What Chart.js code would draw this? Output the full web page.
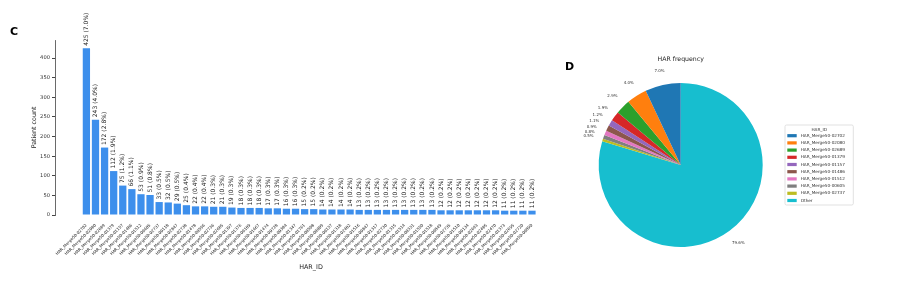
<!DOCTYPE html>
<html><head><meta charset="utf-8">
<script src="https://cdn.jsdelivr.net/npm/chart.js@4.4.1/dist/chart.umd.min.js"></script>
<style>
html,body{margin:0;padding:0;background:#fff;width:902px;height:286px;overflow:hidden;font-family:"DejaVu Sans",sans-serif}
#c1{position:absolute;left:0;top:0;width:575px;height:286px}
#c2{position:absolute;left:560px;top:0;width:342px;height:286px}
.lab{position:absolute;font-weight:bold;font-size:11px;line-height:11px;color:#000;font-family:"DejaVu Sans",sans-serif}
</style></head><body>
<div id="c1"><canvas id="bar"></canvas></div>
<div id="c2"><canvas id="pie"></canvas></div>
<div class="lab" style="left:10px;top:25.7px">C</div>
<div class="lab" style="left:565px;top:61.4px">D</div>
<script>
// ---- data ----
const harIds = ['HAR_Merge50-02702','HAR_Merge50-02080','HAR_Merge50-02689','HAR_Merge50-01379','HAR_Merge50-01157',
 'HAR_Merge50-01486','HAR_Merge50-01512','HAR_Merge50-00605','HAR_Merge50-02737','HAR_Merge50-00118',
 'HAR_Merge50-02847','HAR_Merge50-02738','HAR_Merge50-01478','HAR_Merge50-00596','HAR_Merge50-02736',
 'HAR_Merge50-02685','HAR_Merge50-01397','HAR_Merge50-01376','HAR_Merge50-00189','HAR_Merge50-01667',
 'HAR_Merge50-01474','HAR_Merge50-00728','HAR_Merge50-00384','HAR_Merge50-01347','HAR_Merge50-01761',
 'HAR_Merge50-00508','HAR_Merge50-00009','HAR_Merge50-00137','HAR_Merge50-01318','HAR_Merge50-02482',
 'HAR_Merge50-01516','HAR_Merge50-00847','HAR_Merge50-01317','HAR_Merge50-02730','HAR_Merge50-01315',
 'HAR_Merge50-01514','HAR_Merge50-00331','HAR_Merge50-01550','HAR_Merge50-01518','HAR_Merge50-00849',
 'HAR_Merge50-02735','HAR_Merge50-01510','HAR_Merge50-00134','HAR_Merge50-02693','HAR_Merge50-02485',
 'HAR_Merge50-02470','HAR_Merge50-01373','HAR_Merge50-02695','HAR_Merge50-02720','HAR_Merge50-00890'];
const patientCounts = [425,243,172,112,75,66,53,51,33,32,29,25,22,22,21,21,19,18,18,18,17,17,16,16,15,15,
 14,14,14,14,13,13,13,13,13,13,13,13,13,12,12,12,12,12,12,12,11,11,11,11];
const countPct = [7.0,4.0,2.8,1.9,1.2,1.1,0.9,0.8,0.5,0.5,0.5,0.4,0.4,0.4,0.3,0.3,0.3,0.3,0.3,0.3,0.3,0.3,0.3,0.3,
 0.2,0.2,0.2,0.2,0.2,0.2,0.2,0.2,0.2,0.2,0.2,0.2,0.2,0.2,0.2,0.2,0.2,0.2,0.2,0.2,0.2,0.2,0.2,0.2,0.2,0.2];
const yTicks = [0,50,100,150,200,250,300,350,400];

const pieLabels = ['HAR_Merge50-02702','HAR_Merge50-02080','HAR_Merge50-02689','HAR_Merge50-01379','HAR_Merge50-01157',
 'HAR_Merge50-01486','HAR_Merge50-01512','HAR_Merge50-00605','HAR_Merge50-02737','Other'];
const piePct = [7.0,4.0,2.9,1.9,1.2,1.1,0.9,0.8,0.5,79.6];
const pieColors = ['#1f77b4','#ff7f0e','#2ca02c','#d62728','#9467bd','#8c564b','#e377c2','#7f7f7f','#bcbd22','#17becf'];

Chart.defaults.font.family = '"DejaVu Sans", sans-serif';

const barLabelPlugin = {id:'barLabels', afterDatasetsDraw(chart){
  const ctx = chart.ctx, meta = chart.getDatasetMeta(0);
  ctx.save();
  ctx.font = '6px "DejaVu Sans"'; ctx.fillStyle = '#222';
  ctx.textAlign = 'left'; ctx.textBaseline = 'middle';
  meta.data.forEach((bar, i) => {
    ctx.save(); ctx.translate(bar.x, bar.y - 2.5); ctx.rotate(-Math.PI/2);
    ctx.fillText(patientCounts[i] + ' (' + countPct[i].toFixed(1) + '%)', 0, 0);
    ctx.restore();
  });
  ctx.restore();
}};

new Chart(document.getElementById('bar'), {
  type: 'bar',
  data: {datasets: [{data: patientCounts.map((v, i) => ({x: i, y: v})), backgroundColor: '#3d8fec',
    borderWidth: 0, barPercentage: 0.8, categoryPercentage: 1}]},
  options: {
    responsive: true, maintainAspectRatio: false, animation: false,
    layout: {padding: {left: 25, top: 40, right: 8, bottom: 0}},
    plugins: {legend: {display: false}, tooltip: {enabled: false}},
    scales: {
      x: {type: 'linear', min: -2.89, max: 52.29, bounds: 'data',
        afterBuildTicks: s => { s.ticks = harIds.map((_, i) => ({value: i})); },
        afterFit: s => { s.height = 71; },
        grid: {display: false}, border: {display: false},
        ticks: {autoSkip: false, minRotation: 45, maxRotation: 45, padding: 0, font: {size: 4}, color: '#222',
          callback: v => harIds[v]},
        title: {display: true, text: 'HAR_ID', font: {size: 6.4}, color: '#222', padding: {top: 0, bottom: 15}}
      },
      y: {min: 0, max: 446.25,
        afterBuildTicks: s => { s.ticks = yTicks.map(v => ({value: v})); },
        afterFit: s => { s.width = 30; },
        grid: {drawOnChartArea: false, drawTicks: true, tickLength: 3, color: '#444'},
        border: {display: true, color: '#444', width: 0.8},
        ticks: {font: {size: 5.2}, color: '#333', padding: 2, callback: v => String(v)},
        title: {display: true, text: 'Patient count', font: {size: 6.3}, color: '#222', padding: {top: 6, bottom: 0}}
      }
    }
  },
  plugins: [barLabelPlugin]
});

const pieDeco = {id: 'pieDeco', afterDraw(chart){
  const ctx = chart.ctx, meta = chart.getDatasetMeta(0), vals = chart.data.datasets[0].data;
  ctx.save();
  ctx.fillStyle = '#333'; ctx.textAlign = 'center'; ctx.textBaseline = 'middle';
  ctx.font = '4px "DejaVu Sans"';
  meta.data.forEach((arc, i) => {
    const mid = (arc.startAngle + arc.endAngle) / 2, r = arc.outerRadius * 1.18;
    ctx.fillText(vals[i].toFixed(1) + '%', arc.x + Math.cos(mid) * r, arc.y + Math.sin(mid) * r);
  });
  const ca = chart.chartArea;
  ctx.font = '6.2px "DejaVu Sans"'; ctx.fillStyle = '#222';
  ctx.fillText('HAR frequency', (ca.left + ca.right) / 2, 59);
  // legend
  const lx = 225, ly = 125, lw = 68.3, lh = 80;
  ctx.strokeStyle = '#d9d9d9'; ctx.lineWidth = 0.8;
  ctx.beginPath(); ctx.roundRect(lx, ly, lw, lh, 1.5); ctx.stroke();
  ctx.font = '4.2px "DejaVu Sans"'; ctx.fillStyle = '#333';
  ctx.fillText('HAR_ID', lx + lw / 2, 129.5);
  ctx.textAlign = 'left';
  pieLabels.forEach((lab, i) => {
    const y = 135.7 + i * 7.2;
    ctx.fillStyle = pieColors[i]; ctx.fillRect(lx + 2.3, y - 1.6, 9.4, 3.2);
    ctx.fillStyle = '#333'; ctx.fillText(lab, lx + 15.7, y);
  });
  ctx.restore();
}};

new Chart(document.getElementById('pie'), {
  type: 'pie',
  data: {labels: pieLabels.slice().reverse(),
    datasets: [{data: piePct.slice().reverse(), backgroundColor: pieColors.slice().reverse(), borderWidth: 0}]},
  options: {
    responsive: true, maintainAspectRatio: false, animation: false,
    layout: {padding: {left: 38.7, top: 83, right: 139.3, bottom: 39}},
    plugins: {legend: {display: false}, tooltip: {enabled: false}}
  },
  plugins: [pieDeco]
});
</script>
</body></html>
